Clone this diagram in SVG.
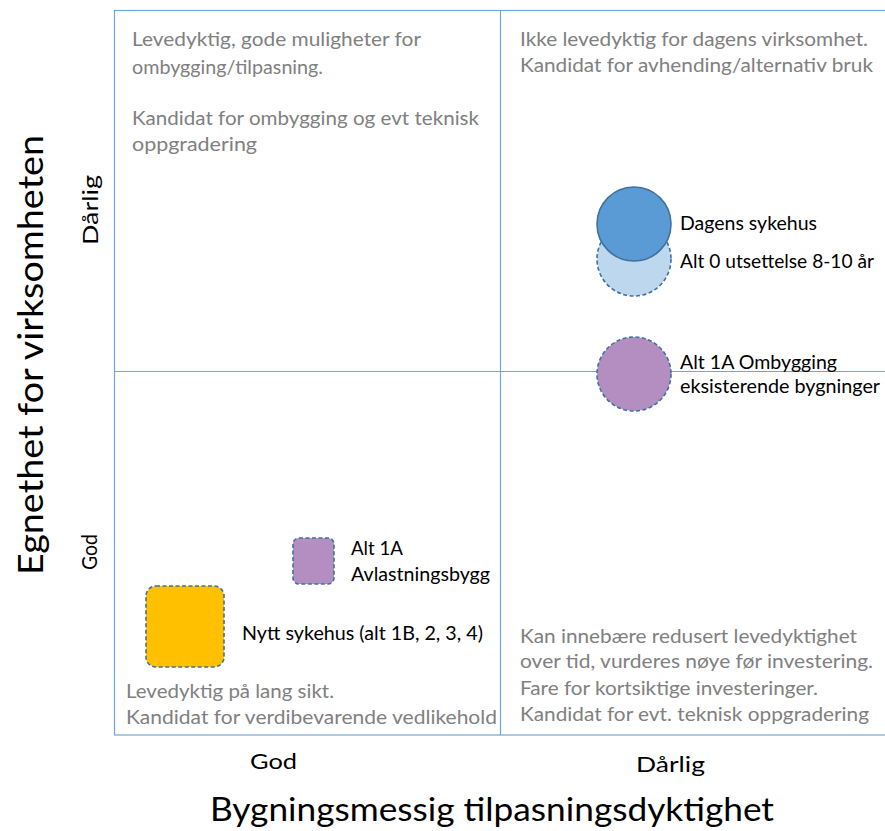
<svg xmlns="http://www.w3.org/2000/svg" width="885" height="831" viewBox="0 0 885 831">
<style>
.grid{fill:none;stroke:#6fa6dc;stroke-width:1.2}
.note{font-family:Lato,"Open Sans",sans-serif;font-size:18.5px;fill:#808080}
.lab{font-family:Lato,"Open Sans",sans-serif;font-size:18.5px;fill:#000}
.ax{font-family:Lato,"Open Sans",sans-serif;fill:#000}
.dash{stroke:#41719c;stroke-width:1.6;stroke-dasharray:4 2.5}
</style>
<rect width="885" height="831" fill="#fff"/>
<g id="grid">
<rect class="grid" x="114.5" y="10.5" width="780" height="724.5"/>
<line class="grid" x1="500.5" y1="10.5" x2="500.5" y2="735" stroke="#a9c8ea"/>
<line class="grid" x1="114.5" y1="371.5" x2="885" y2="371.5"/>
</g>
<g id="quadrant-notes">
<text class="note" x="132" y="46" textLength="289" lengthAdjust="spacingAndGlyphs">Levedyktig, gode muligheter for</text>
<text class="note" x="132" y="74" textLength="191" lengthAdjust="spacingAndGlyphs">ombygging/tilpasning.</text>
<text class="note" x="132" y="125" textLength="347" lengthAdjust="spacingAndGlyphs">Kandidat for ombygging og evt teknisk</text>
<text class="note" x="132" y="151" textLength="125" lengthAdjust="spacingAndGlyphs">oppgradering</text>
<text class="note" x="520" y="46" textLength="348" lengthAdjust="spacingAndGlyphs">Ikke levedyktig for dagens virksomhet.</text>
<text class="note" x="520" y="72" textLength="353" lengthAdjust="spacingAndGlyphs">Kandidat for avhending/alternativ bruk</text>
<text class="note" x="126" y="698" textLength="208" lengthAdjust="spacingAndGlyphs">Levedyktig på lang sikt.</text>
<text class="note" x="126" y="724" textLength="371" lengthAdjust="spacingAndGlyphs">Kandidat for verdibevarende vedlikehold</text>
<text class="note" x="520" y="643" textLength="337" lengthAdjust="spacingAndGlyphs">Kan innebære redusert levedyktighet</text>
<text class="note" x="520" y="668" textLength="353" lengthAdjust="spacingAndGlyphs">over tid, vurderes nøye før investering.</text>
<text class="note" x="520" y="695" textLength="298" lengthAdjust="spacingAndGlyphs">Fare for kortsiktige investeringer.</text>
<text class="note" x="520" y="721" textLength="349" lengthAdjust="spacingAndGlyphs">Kandidat for evt. teknisk oppgradering</text>
</g>
<g id="alt0">
<circle class="dash" cx="634" cy="259" r="37" fill="#bdd7ee"/>
<text class="lab" x="680" y="268" textLength="194" lengthAdjust="spacingAndGlyphs">Alt 0 utsettelse 8-10 år</text>
</g>
<g id="dagens-sykehus">
<circle cx="634" cy="224" r="37" fill="#5b9bd5" stroke="#41719c" stroke-width="1.6"/>
<text class="lab" x="680" y="230" textLength="137" lengthAdjust="spacingAndGlyphs">Dagens sykehus</text>
</g>
<g id="alt1a-ombygging">
<circle class="dash" cx="634" cy="374" r="37" fill="#b48dc1"/>
<text class="lab" x="680" y="369" textLength="157" lengthAdjust="spacingAndGlyphs">Alt 1A Ombygging</text>
<text class="lab" x="680" y="393" textLength="200" lengthAdjust="spacingAndGlyphs">eksisterende bygninger</text>
</g>
<g id="alt1a-avlastningsbygg">
<rect class="dash" x="293" y="538" width="41" height="46" rx="6" fill="#b48dc1"/>
<text class="lab" x="351" y="555" textLength="52" lengthAdjust="spacingAndGlyphs">Alt 1A</text>
<text class="lab" x="351" y="581" textLength="139" lengthAdjust="spacingAndGlyphs">Avlastningsbygg</text>
</g>
<g id="nytt-sykehus">
<rect class="dash" x="146" y="586" width="78" height="81" rx="10" fill="#ffc000"/>
<text class="lab" x="242" y="640" textLength="241" lengthAdjust="spacingAndGlyphs">Nytt sykehus (alt 1B, 2, 3, 4)</text>
</g>
<g id="axes">
<text class="ax" x="250" y="769" font-size="22" textLength="47" lengthAdjust="spacingAndGlyphs">God</text>
<text class="ax" x="636" y="772" font-size="22" textLength="69" lengthAdjust="spacingAndGlyphs">Dårlig</text>
<text class="ax" x="210" y="821" font-size="32" textLength="564" lengthAdjust="spacingAndGlyphs">Bygningsmessig tilpasningsdyktighet</text>
<text class="ax" transform="translate(43,575) rotate(-90)" font-size="34" textLength="440" lengthAdjust="spacingAndGlyphs">Egnethet for virksomheten</text>
<text class="ax" transform="translate(98,245) rotate(-90)" font-size="22" textLength="70" lengthAdjust="spacingAndGlyphs">Dårlig</text>
<text class="ax" transform="translate(97,570) rotate(-90)" font-size="22" textLength="36" lengthAdjust="spacingAndGlyphs">God</text>
</g>
</svg>
